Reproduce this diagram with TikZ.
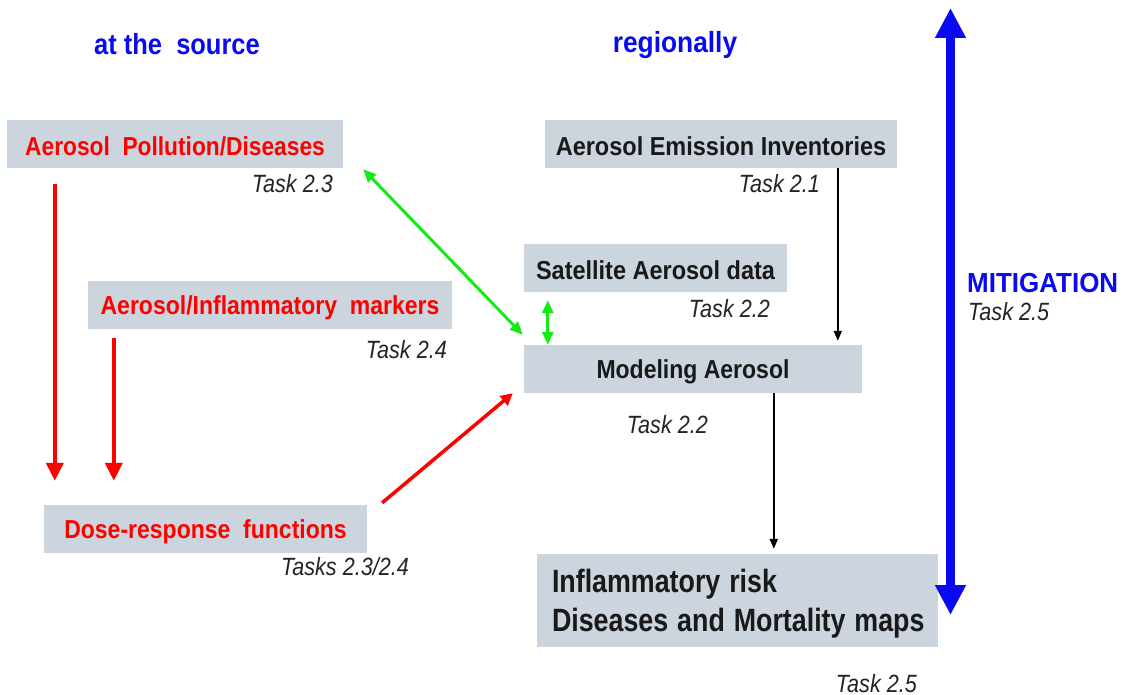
\documentclass[tikz,border=0pt]{standalone}
\usepackage{fontspec}
\setmainfont{Liberation Sans}
\usepackage{graphicx}
\usetikzlibrary{arrows.meta,calc}
\definecolor{boxfill}{RGB}{204,212,222}
\definecolor{arrgreen}{RGB}{20,235,20}
\definecolor{ttblue}{RGB}{10,10,240}
\definecolor{taskgray}{RGB}{35,35,35}
\newcommand\hsq[2]{\raisebox{-2.5pt}[\height][\depth]{\scalebox{#1}[1.04]{#2}}}
\newcommand\tsq[2]{\scalebox{#1}[1.04]{#2}}
\begin{document}
\begin{tikzpicture}[x=1pt,y=-1pt,
  box/.style={fill=boxfill, inner sep=0pt, minimum height=48pt, font=\bfseries\fontsize{25}{30}\selectfont},
  redlbl/.style={text=red},
  blklbl/.style={text=black!90},
  task/.style={inner sep=0pt, text=taskgray, font=\itshape\fontsize{24}{28}\selectfont},
  title/.style={inner sep=0pt, text=ttblue, font=\bfseries\fontsize{28}{32}\selectfont},
  redarr/.style={draw=red, line width=4pt, -{Triangle[width=17pt,length=18pt]}},
  reddiag/.style={draw=red, line width=3.5pt, -{Triangle[width=12pt,length=12pt]}},
  grnarr/.style={draw=arrgreen, line width=3pt, {Triangle[width=11pt,length=13pt]}-{Triangle[width=11pt,length=13pt]}},
  blkarr/.style={draw=black, line width=2pt, -{Triangle[width=8pt,length=10pt]}},
  bluarr/.style={draw=ttblue, line width=9pt, {Triangle[width=29pt,length=30pt]}-{Triangle[width=29pt,length=30pt]}}
]
\useasboundingbox (0,0) rectangle (1123,695);

% titles
\node[title, anchor=base] (tsrc) at (177,55) {\tsq{0.91}{at the\ \ source}};
\node[title, anchor=base] (treg) at (675,53) {\tsq{0.94}{regionally}};

% left boxes
\node[box, redlbl, minimum width=336pt] (pol) at (175,144) {\hsq{0.91}{Aerosol\ \ Pollution/Diseases}};
\node[box, redlbl, minimum width=364pt] (mark) at (270,305) {\hsq{0.92}{Aerosol/Inflammatory\ \ markers}};
\node[box, redlbl, minimum width=323pt] (dose) at (205.5,529) {\hsq{0.92}{Dose-response\ \ functions}};

% right boxes
\node[box, blklbl, minimum width=352pt] (emis) at (721,144) {\hsq{0.94}{Aerosol Emission Inventories}};
\node[box, blklbl, minimum width=263pt] (sat) at (655.5,268) {\hsq{0.94}{Satellite Aerosol data}};
\node[box, blklbl, minimum width=338pt] (model) at (693,369) {\hsq{0.92}{Modeling Aerosol}};
\node[fill=boxfill, inner xsep=15pt, inner ysep=0pt, text width=371pt, align=left, minimum height=93pt, text=black!90,
      font=\bfseries\fontsize{31}{37}\selectfont] (infl) at (737.5,600.5)
  {\raisebox{-4pt}[\height][\depth]{\scalebox{0.865}[1.04]{\begin{tabular}{@{}l@{}}Inflammatory risk\\Diseases and Mortality maps\end{tabular}}}};

% task labels
\node[task, anchor=base east] (t23) at (333,192) {\tsq{0.9}{Task 2.3}};
\node[task, anchor=base east] (t24) at (447,358) {\tsq{0.9}{Task 2.4}};
\node[task, anchor=base east] (t2324) at (409,575) {\tsq{0.9}{Tasks 2.3/2.4}};
\node[task, anchor=base east] (t21) at (820,192) {\tsq{0.9}{Task 2.1}};
\node[task, anchor=base east] (t22a) at (770,317) {\tsq{0.9}{Task 2.2}};
\node[task, anchor=base east] (t22b) at (708,433) {\tsq{0.9}{Task 2.2}};
\node[task, anchor=base east] (t25a) at (917,692) {\tsq{0.9}{Task 2.5}};

% mitigation
\node[inner sep=0pt, anchor=base west, text=ttblue, font=\bfseries\fontsize{26.5}{30}\selectfont] (mit) at (967,292) {\tsq{0.98}{MITIGATION}};
\node[task, anchor=base west] (t25b) at (968,320) {\tsq{0.9}{Task 2.5}};
\coordinate (mtop) at (950.5,8);
\coordinate (mbot) at (950.5,615);
\draw[bluarr] (mtop) -- (mbot);

% red arrows
\draw[redarr] ([xshift=48pt,yshift=-16pt]pol.south west) -- ([xshift=11pt,yshift=24pt]dose.north west);
\draw[redarr] ([xshift=26pt,yshift=-9pt]mark.south west) -- ([xshift=70pt,yshift=24pt]dose.north west);
\draw[reddiag] ([xshift=15pt,yshift=2pt]dose.north east) -- ([xshift=-11pt]model.south west);

% green arrows
\draw[grnarr] ([xshift=20pt,yshift=-1pt]pol.south east) -- ([xshift=-1pt,yshift=10pt]model.north west);
\draw[grnarr] ([xshift=24pt,yshift=-8pt]sat.south west) -- ([xshift=24pt]model.north west);

% black arrows
\draw[blkarr] ([xshift=293pt]emis.south west) -- ([xshift=314pt,yshift=4pt]model.north west);
\draw[blkarr] ([xshift=250pt]model.south west) -- ([xshift=237pt,yshift=5pt]infl.north west);
\end{tikzpicture}
\end{document}
